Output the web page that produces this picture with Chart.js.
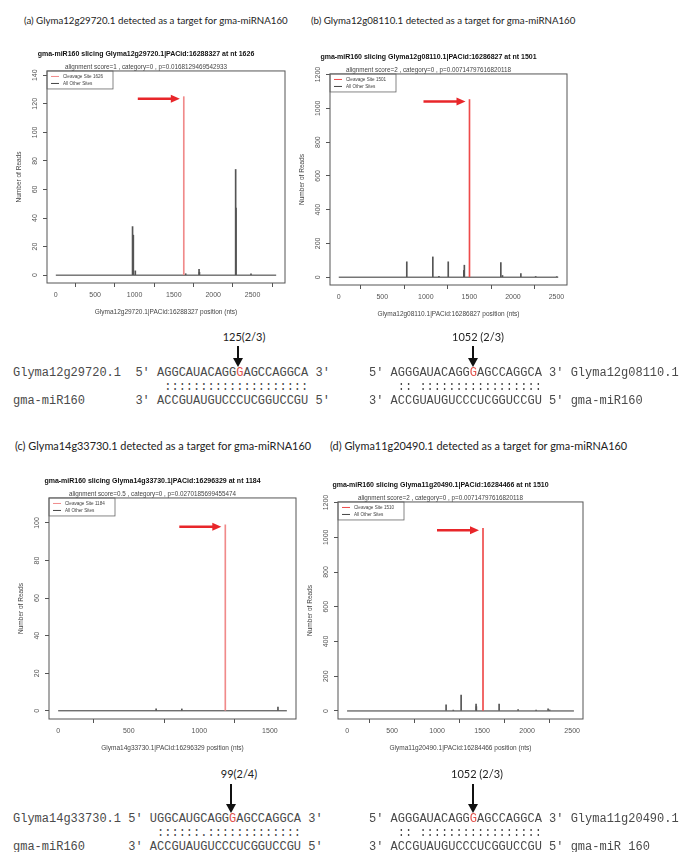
<!DOCTYPE html>
<html>
<head>
<meta charset="utf-8">
<script src="https://cdn.jsdelivr.net/npm/chart.js@4.4.1/dist/chart.umd.min.js"></script>
<style>
  body { margin: 0; background: #fff; }
  #page { position: relative; width: 685px; height: 852px; overflow: hidden; font-family: Lato, "Open Sans", sans-serif; color: #222; }
  .head { position: absolute; white-space: nowrap; font-size: 9.7px; line-height: 14px; }
  .head.big { font-size: 10.9px; }
  canvas { position: absolute; }
  .aln { position: absolute; margin: 0; font-family: "Liberation Mono", "Courier New", monospace; font-size: 12px; line-height: 14px; color: #4a4a4a; white-space: pre; }
  .cut { color: #e0504a; }
  .site { position: absolute; font-size: 11px; line-height: 12px; white-space: nowrap; transform: translateX(-50%); }
  .arrow { position: absolute; width: 2px; background: #111; }
  .arrow:after { content: ""; position: absolute; left: -4px; bottom: -8px; border-left: 5px solid transparent; border-right: 5px solid transparent; border-top: 9px solid #111; }
</style>
</head>
<body>
<div id="page">
  <div class="head" style="left:24px;top:13px">(a) Glyma12g29720.1 detected as a target for gma-miRNA160</div>
  <div class="head" style="left:311px;top:13px">(b) Glyma12g08110.1 detected as a target for gma-miRNA160</div>
  <div class="head big" style="left:15px;top:439px">(c) Glyma14g33730.1 detected as a target for gma-miRNA160</div>
  <div class="head big" style="left:330px;top:439px">(d) Glyma11g20490.1 detected as a target for gma-miRNA160</div>

  <canvas id="chartA"></canvas>
  <canvas id="chartB"></canvas>
  <canvas id="chartC"></canvas>
  <canvas id="chartD"></canvas>

  <div class="site" style="left:244px;top:331px">125(2/3)</div>
  <div class="arrow" style="left:237px;top:346px;height:13px"></div>
  <pre class="aln" style="left:13px;top:366px">Glyma12g29720.1  5' AGGCAUACAGG<span class="cut">G</span>AGCCAGGCA 3'
                     ::::::::::::::::::::
gma-miR160       3' ACCGUAUGUCCCUCGGUCCGU 5'</pre>

  <div class="site" style="left:478px;top:331px">1052 (2/3)</div>
  <div class="arrow" style="left:472px;top:346px;height:13px"></div>
  <pre class="aln" style="left:369px;top:366px">5' AGGGAUACAGG<span class="cut">G</span>AGCCAGGCA 3' Glyma12g08110.1
    :: :::::::::::::::::
3' ACCGUAUGUCCCUCGGUCCGU 5' gma-miR160</pre>

  <div class="site" style="left:239px;top:768px">99(2/4)</div>
  <div class="arrow" style="left:230px;top:784px;height:21px"></div>
  <pre class="aln" style="left:13px;top:812px">Glyma14g33730.1 5' UGGCAUGCAGG<span class="cut">G</span>AGCCAGGCA 3'
                    ::::::.:::::::::::::
gma-miR160      3' ACCGUAUGUCCCUCGGUCCGU 5'</pre>

  <div class="site" style="left:477px;top:768px">1052 (2/3)</div>
  <div class="arrow" style="left:472px;top:784px;height:21px"></div>
  <pre class="aln" style="left:369px;top:812px">5' AGGGAUACAGG<span class="cut">G</span>AGCCAGGCA 3' Glyma11g20490.1
    :: :::::::::::::::::
3' ACCGUAUGUCCCUCGGUCCGU 5' gma-miR 160</pre>
</div>

<script>
// (a) Glyma12g29720.1
const aCutPos = [1626];
const aCutReads = [125];
const aOtherPos = [975, 985, 1010, 1650, 1820, 1825, 2285, 2290, 2480];
const aOtherReads = [34, 28, 3, 1, 4, 2, 74, 47, 1];
const aLength = 2800;
const aXTicks = [0, 500, 1000, 1500, 2000, 2500];
const aYTicks = [0, 20, 40, 60, 80, 100, 120, 140];

// (b) Glyma12g08110.1
const bCutPos = [1501];
const bCutReads = [1052];
const bOtherPos = [781, 1080, 1150, 1257, 1436, 1442, 1861, 1880, 2091, 2261, 2503];
const bOtherReads = [91, 120, 5, 91, 40, 71, 87, 10, 22, 4, 3];
const bLength = 2520;
const bXTicks = [0, 500, 1000, 1500, 2000, 2500];
const bYTicks = [0, 200, 400, 600, 800, 1000, 1200];

// (c) Glyma14g33730.1
const cCutPos = [1184];
const cCutReads = [99];
const cOtherPos = [694, 876, 1557];
const cOtherReads = [1, 1, 2];
const cLength = 1620;
const cXTicks = [0, 500, 1000, 1500];
const cYTicks = [0, 20, 40, 60, 80, 100];

// (d) Glyma11g20490.1
const dCutPos = [1510];
const dCutReads = [1052];
const dOtherPos = [1100, 1180, 1267, 1433, 1436, 1689, 1900, 2100, 2233, 2250];
const dOtherReads = [35, 5, 92, 40, 25, 40, 8, 5, 12, 6];
const dLength = 2520;
const dXTicks = [0, 500, 1000, 1500, 2000, 2500];
const dYTicks = [0, 200, 400, 600, 800, 1000, 1200];

const FONT = '"Liberation Sans", Arial, sans-serif';

// box, rotated y labels, legend and red arrow, R style
const rStyle = {
  id: 'rStyle',
  afterDraw(chart, args, o) {
    const { ctx, chartArea: a, scales: { x, y } } = chart;
    ctx.save();
    ctx.strokeStyle = '#555';
    ctx.lineWidth = 1;
    ctx.strokeRect(a.left, a.top, a.right - a.left, a.bottom - a.top);

    ctx.fillStyle = '#555';
    ctx.font = '7px ' + FONT;
    ctx.textAlign = 'center';
    ctx.textBaseline = 'middle';
    y.ticks.forEach(t => {
      ctx.save();
      ctx.translate(a.left - 12, y.getPixelForValue(t.value));
      ctx.rotate(-Math.PI / 2);
      ctx.fillText(String(t.value), 0, 0);
      ctx.restore();
    });

    // legend
    const lw = 66, lh = 18;
    ctx.strokeStyle = '#666';
    ctx.lineWidth = 0.8;
    ctx.strokeRect(a.left, a.top, lw, lh);
    ctx.lineWidth = 1;
    ctx.strokeStyle = o.cutColor;
    ctx.beginPath(); ctx.moveTo(a.left + 4, a.top + 5.5); ctx.lineTo(a.left + 12, a.top + 5.5); ctx.stroke();
    ctx.strokeStyle = '#444';
    ctx.beginPath(); ctx.moveTo(a.left + 4, a.top + 12.5); ctx.lineTo(a.left + 12, a.top + 12.5); ctx.stroke();
    ctx.fillStyle = '#444';
    ctx.font = '4.6px ' + FONT;
    ctx.textAlign = 'left';
    ctx.fillText('Cleavage Site ' + o.cutPos, a.left + 16, a.top + 5.5);
    ctx.fillText('All Other Sites', a.left + 16, a.top + 12.5);

    // arrow pointing at the cleavage peak
    const px = x.getPixelForValue(o.cutPos) - 4;
    const py = y.getPixelForValue(o.cutReads) + 2;
    ctx.strokeStyle = '#e8262a';
    ctx.fillStyle = '#e8262a';
    ctx.lineWidth = 2.5;
    ctx.beginPath(); ctx.moveTo(px - 42, py); ctx.lineTo(px - 7, py); ctx.stroke();
    ctx.beginPath(); ctx.moveTo(px, py); ctx.lineTo(px - 9, py - 4); ctx.lineTo(px - 9, py + 4); ctx.closePath(); ctx.fill();
    ctx.restore();
  }
};

function pairs(xs, ys) {
  return xs.map((v, i) => ({ x: v, y: ys[i] }));
}

function makeChart(id, box, p) {
  const cv = document.getElementById(id);
  const w = (box.r - box.l) + 48, h = (box.b - box.t) + 66;
  cv.width = w; cv.height = h;
  cv.style.left = (box.l - 40) + 'px';
  cv.style.top = (box.t - 28) + 'px';
  const axisGrid = { display: true, drawOnChartArea: false, drawTicks: true, tickLength: 4, color: '#555' };
  new Chart(cv, {
    type: 'bar',
    data: {
      datasets: [
        { type: 'line', data: [{ x: 0, y: 0 }, { x: p.length, y: 0 }], borderColor: '#333', borderWidth: 1, pointRadius: 0, order: 3 },
        { data: pairs(p.otherPos, p.otherReads), backgroundColor: '#555', barThickness: 1, grouped: false, order: 2 },
        { data: pairs(p.cutPos, p.cutReads), backgroundColor: p.cutColor, barThickness: 1, grouped: false, order: 1 }
      ]
    },
    options: {
      responsive: false,
      animation: false,
      layout: { padding: { right: 8 } },
      plugins: {
        legend: { display: false },
        tooltip: { enabled: false },
        title: { display: true, text: p.title, color: '#111', font: { family: FONT, size: 7, weight: 'bold' }, padding: { top: 6.5, bottom: 3 } },
        subtitle: { display: true, text: p.sub, color: '#444', font: { family: FONT, size: 6.3 }, padding: { top: 2.5, bottom: 0 } },
        rStyle: { cutPos: p.cutPos[0], cutReads: p.cutReads[0], cutColor: p.cutColor }
      },
      scales: {
        x: {
          type: 'linear', min: p.xMin, max: p.xMax, offset: false,
          afterBuildTicks: s => { s.ticks = p.xTicks.map(v => ({ value: v })); },
          afterFit: s => { s.height = 38; },
          grid: axisGrid, border: { display: false },
          ticks: { color: '#555', font: { family: FONT, size: 7 }, padding: 4, maxRotation: 0, autoSkip: false, callback: v => String(v) },
          title: { display: true, text: p.xTitle, color: '#444', font: { family: FONT, size: 6.5 }, padding: { top: 5, bottom: 5 } }
        },
        y: {
          min: p.yMin, max: p.yMax,
          afterBuildTicks: s => { s.ticks = p.yTicks.map(v => ({ value: v })); },
          afterFit: s => { s.width = 40; },
          grid: axisGrid, border: { display: false },
          ticks: { display: false },
          title: { display: true, text: 'Number of Reads', color: '#444', font: { family: FONT, size: 6.5 }, padding: { top: 8, bottom: 8 } }
        }
      }
    },
    plugins: [rStyle]
  });
}

makeChart('chartA', { l: 47, t: 71, r: 285, b: 283 }, {
  title: 'gma-miR160 slicing Glyma12g29720.1|PACid:16288327 at nt 1626',
  sub: 'alignment score=1 , category=0 , p=0.0168129469542933',
  xTitle: 'Glyma12g29720.1|PACid:16288327 position (nts)',
  cutPos: aCutPos, cutReads: aCutReads, otherPos: aOtherPos, otherReads: aOtherReads,
  length: aLength, xTicks: aXTicks, yTicks: aYTicks,
  xMin: -112, xMax: 2912, yMin: -5.5, yMax: 143, cutColor: '#f08a8a'
});
makeChart('chartB', { l: 330, t: 74, r: 567, b: 285 }, {
  title: 'gma-miR160 slicing Glyma12g08110.1|PACid:16286827 at nt 1501',
  sub: 'alignment score=2 , category=0 , p=0.00714797616820118',
  xTitle: 'Glyma12g08110.1|PACid:16286827 position (nts)',
  cutPos: bCutPos, cutReads: bCutReads, otherPos: bOtherPos, otherReads: bOtherReads,
  length: bLength, xTicks: bXTicks, yTicks: bYTicks,
  xMin: -100.8, xMax: 2620.8, yMin: -46.3, yMax: 1203.5, cutColor: '#ee4a4a'
});
makeChart('chartC', { l: 49, t: 498, r: 296, b: 719 }, {
  title: 'gma-miR160 slicing Glyma14g33730.1|PACid:16296329 at nt 1184',
  sub: 'alignment score=0.5 , category=0 , p=0.0270185699455474',
  xTitle: 'Glyma14g33730.1|PACid:16296329 position (nts)',
  cutPos: cCutPos, cutReads: cCutReads, otherPos: cOtherPos, otherReads: cOtherReads,
  length: cLength, xTicks: cXTicks, yTicks: cYTicks,
  xMin: -64.8, xMax: 1684.8, yMin: -4.36, yMax: 113.3, cutColor: '#f08a8a'
});
makeChart('chartD', { l: 338, t: 502, r: 583, b: 719 }, {
  title: 'gma-miR160 slicing Glyma11g20490.1|PACid:16284466 at nt 1510',
  sub: 'alignment score=2 , category=0 , p=0.00714797616820118',
  xTitle: 'Glyma11g20490.1|PACid:16284466 position (nts)',
  cutPos: dCutPos, cutReads: dCutReads, otherPos: dOtherPos, otherReads: dOtherReads,
  length: dLength, xTicks: dXTicks, yTicks: dYTicks,
  xMin: -100.8, xMax: 2620.8, yMin: -46.3, yMax: 1203.5, cutColor: '#ee4a4a'
});
</script>
</body>
</html>
